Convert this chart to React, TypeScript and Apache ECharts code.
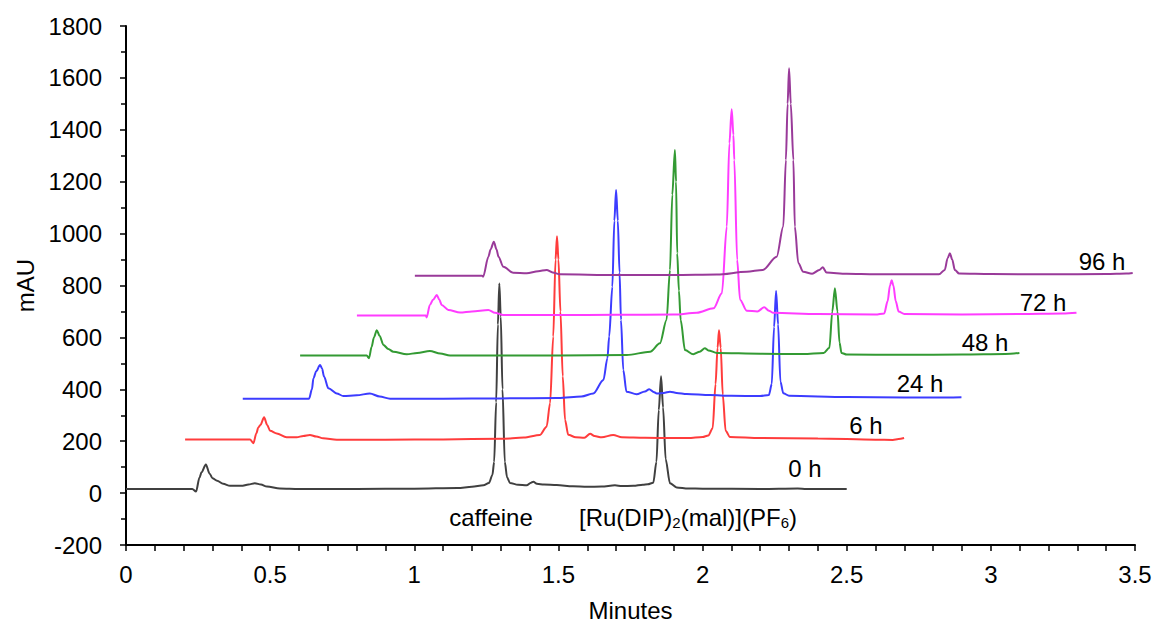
import React, { useEffect, useRef } from "react";
import * as echarts from "echarts";

const xTicks = [0, 0.5, 1, 1.5, 2, 2.5, 3, 3.5];
const yTicks = [-200, 0, 200, 400, 600, 800, 1000, 1200, 1400, 1600, 1800];
const seriesNames = ["0 h", "6 h", "24 h", "48 h", "72 h", "96 h"];
const seriesColors = ["#404040", "#ff3c3c", "#3c3cff", "#339a33", "#ff3cff", "#993a99"];

const trace0h = [
  [0, 16], [0.23, 16], [0.243, 6], [0.255, 60], [0.262, 80], [0.277, 110], [0.29, 75], [0.3, 57],
  [0.316, 48], [0.337, 36], [0.361, 28], [0.4, 28], [0.425, 33], [0.447, 38], [0.468, 33], [0.489, 25],
  [0.534, 18], [0.6, 16], [0.8, 16], [1.0, 17], [1.15, 20], [1.2, 24], [1.24, 30], [1.259, 39],
  [1.271, 70], [1.277, 120], [1.284, 350], [1.29, 650], [1.295, 808], [1.3, 680], [1.306, 400],
  [1.314, 120], [1.322, 60], [1.332, 39], [1.36, 32], [1.39, 30], [1.405, 40], [1.413, 44], [1.425, 36],
  [1.45, 33], [1.494, 31], [1.55, 26], [1.6, 24], [1.65, 25], [1.696, 30], [1.72, 27], [1.76, 28],
  [1.793, 32], [1.81, 34], [1.829, 40], [1.84, 120], [1.848, 320], [1.856, 450], [1.863, 330],
  [1.872, 130], [1.887, 38], [1.91, 22], [1.95, 18], [2.0, 17], [2.2, 16], [2.33, 18], [2.36, 16], [2.5, 16],
];

const trace6h = [
  [0.205, 207], [0.3, 207], [0.43, 207], [0.442, 192], [0.452, 230], [0.459, 253], [0.466, 262],
  [0.479, 292], [0.49, 262], [0.5, 240], [0.523, 230], [0.557, 215], [0.592, 215], [0.615, 220],
  [0.638, 224], [0.66, 218], [0.684, 211], [0.731, 206], [0.9, 206], [1.1, 207], [1.3, 209], [1.38, 214],
  [1.436, 224], [1.459, 256], [1.471, 346], [1.482, 603], [1.49, 900], [1.495, 990], [1.5, 900],
  [1.507, 700], [1.515, 450], [1.523, 282], [1.534, 225], [1.56, 215], [1.59, 213], [1.61, 229],
  [1.625, 220], [1.65, 215], [1.69, 224], [1.72, 215], [1.8, 213], [1.9, 212], [1.95, 212], [2.0, 216],
  [2.02, 222], [2.035, 250], [2.045, 420], [2.052, 560], [2.057, 628], [2.063, 560], [2.07, 380],
  [2.08, 240], [2.095, 216], [2.2, 212], [2.4, 210], [2.6, 206], [2.66, 205], [2.68, 208], [2.699, 212],
];

const trace24h = [
  [0.405, 364], [0.55, 364], [0.635, 364], [0.645, 400], [0.65, 442], [0.66, 470], [0.673, 494],
  [0.68, 480], [0.687, 449], [0.702, 404], [0.731, 384], [0.754, 374], [0.8, 377], [0.846, 384],
  [0.88, 372], [0.916, 364], [1.1, 364], [1.3, 365], [1.5, 366], [1.58, 372], [1.621, 384], [1.656, 436],
  [1.67, 520], [1.676, 603], [1.687, 795], [1.694, 1050], [1.7, 1168], [1.706, 1050], [1.712, 850],
  [1.717, 667], [1.725, 474], [1.736, 391], [1.771, 381], [1.8, 392], [1.815, 400], [1.83, 390],
  [1.841, 384], [1.865, 386], [1.887, 391], [1.91, 386], [1.945, 382], [2.026, 378], [2.1, 375],
  [2.2, 374], [2.23, 378], [2.24, 420], [2.248, 640], [2.255, 779], [2.262, 650], [2.27, 430],
  [2.28, 385], [2.3, 375], [2.5, 370], [2.7, 368], [2.85, 368], [2.898, 369],
];

const trace48h = [
  [0.604, 530], [0.75, 530], [0.835, 530], [0.843, 520], [0.852, 564], [0.86, 600], [0.87, 628],
  [0.88, 605], [0.893, 571], [0.91, 555], [0.927, 545], [0.974, 535], [1.01, 540], [1.054, 548],
  [1.09, 538], [1.124, 530], [1.3, 530], [1.5, 530], [1.737, 532], [1.818, 545], [1.852, 577],
  [1.875, 667], [1.887, 860], [1.895, 1150], [1.904, 1322], [1.908, 1200], [1.912, 924], [1.918, 780],
  [1.924, 667], [1.939, 551], [1.968, 535], [1.99, 545], [2.008, 558], [2.02, 550], [2.05, 540],
  [2.2, 537], [2.35, 536], [2.42, 540], [2.44, 560], [2.45, 700], [2.459, 789], [2.468, 700],
  [2.475, 580], [2.482, 540], [2.5, 534], [2.7, 533], [2.9, 534], [3.05, 536], [3.099, 540],
];

const trace72h = [
  [0.801, 684], [0.95, 684], [1.04, 684], [1.043, 677], [1.054, 725], [1.065, 745], [1.078, 763],
  [1.087, 745], [1.095, 725], [1.118, 706], [1.159, 696], [1.2, 700], [1.257, 706], [1.28, 695],
  [1.309, 686], [1.5, 686], [1.7, 687], [1.9, 688], [1.98, 695], [2.038, 712], [2.067, 770],
  [2.084, 1027], [2.093, 1348], [2.101, 1479], [2.107, 1380], [2.11, 1284], [2.12, 899], [2.13, 745],
  [2.153, 703], [2.19, 700], [2.214, 716], [2.23, 703], [2.245, 695], [2.4, 690], [2.6, 688],
  [2.63, 692], [2.642, 740], [2.65, 800], [2.656, 820], [2.662, 800], [2.67, 740], [2.68, 700],
  [2.7, 690], [2.9, 688], [3.1, 690], [3.25, 692], [3.297, 695],
];

const trace96h = [
  [1.002, 838], [1.15, 838], [1.235, 838], [1.239, 834], [1.257, 911], [1.265, 940], [1.276, 969],
  [1.285, 940], [1.292, 911], [1.309, 872], [1.343, 849], [1.39, 847], [1.43, 855], [1.459, 860],
  [1.48, 850], [1.505, 843], [1.7, 840], [1.9, 840], [2.05, 842], [2.153, 853], [2.209, 860],
  [2.257, 911], [2.28, 1027], [2.289, 1284], [2.295, 1500], [2.3, 1637], [2.306, 1500], [2.315, 1284],
  [2.32, 1027], [2.332, 887], [2.349, 853], [2.38, 845], [2.405, 860], [2.417, 870], [2.43, 850],
  [2.5, 845], [2.6, 843], [2.7, 843], [2.82, 843], [2.84, 860], [2.85, 905], [2.858, 924], [2.866, 900],
  [2.875, 860], [2.89, 846], [3.0, 844], [3.2, 843], [3.4, 844], [3.47, 846], [3.492, 848],
];

const traces = [trace0h, trace6h, trace24h, trace48h, trace72h, trace96h];

// label anchor positions (pixels) for the trace names
const traceLabelPos = [
  [805, 468], [866, 425], [920, 383], [985, 342], [1043, 302], [1102, 261],
];

const FONT = "Arial, 'Liberation Sans', Helvetica, sans-serif";
const FS = 24;

export default function App() {
  const ref = useRef<HTMLDivElement>(null);
  useEffect(() => {
    document.body.style.margin = "0";
    document.body.style.overflow = "hidden";
    document.documentElement.style.overflow = "hidden";
    const chart = echarts.init(ref.current!, null, { renderer: "svg", width: 1157, height: 625 });
    const baseText = {
      font: `${FS}px ${FONT}`,
      fontSize: FS,
      fontFamily: FONT,
      fill: "#000",
      textAlign: "center",
      textVerticalAlign: "middle",
      align: "center",
      verticalAlign: "middle",
    };
    const graphic: any[] = seriesNames.map((n, i) => ({
      type: "text",
      x: traceLabelPos[i][0],
      y: traceLabelPos[i][1],
      style: { ...baseText, text: n },
    }));
    graphic.push({ type: "text", x: 491, y: 517, style: { ...baseText, text: "caffeine" } });
    graphic.push({
      type: "text",
      x: 688,
      y: 517,
      style: {
        ...baseText,
        text: "[Ru(DIP){s|2}(mal)](PF{s|6})",
        rich: {
          s: { fontSize: 15, fontFamily: FONT, fill: "#000", padding: [11, 0, 0, 0] },
        },
      },
    });
    chart.setOption({
      animation: false,
      backgroundColor: "#fff",
      grid: {
        left: 126,
        right: 22,
        top: 26,
        bottom: 80,
        containLabel: false,
        outerBoundsMode: "none",
      },
      xAxis: {
        type: "value",
        min: xTicks[0],
        max: xTicks[xTicks.length - 1],
        interval: 0.5,
        name: "Minutes",
        nameLocation: "middle",
        nameGap: 53,
        nameTextStyle: { fontSize: FS, fontFamily: FONT, color: "#000" },
        axisLine: { onZero: false, lineStyle: { color: "#000", width: 2 } },
        axisTick: { show: true, inside: false, length: 6, lineStyle: { color: "#000", width: 1.5 } },
        minorTick: { show: true, splitNumber: 5, length: 6, lineStyle: { color: "#000", width: 1.5 } },
        axisLabel: {
          fontSize: FS,
          fontFamily: FONT,
          color: "#000",
          margin: 17,
          formatter: (v: number) => String(v),
        },
        splitLine: { show: false },
      },
      yAxis: {
        type: "value",
        min: yTicks[0],
        max: yTicks[yTicks.length - 1],
        interval: 200,
        name: "mAU",
        nameLocation: "middle",
        nameGap: 86,
        nameTextStyle: { fontSize: FS, fontFamily: FONT, color: "#000" },
        axisLine: { show: true, lineStyle: { color: "#000", width: 2 } },
        axisTick: { show: true, inside: false, length: 6, lineStyle: { color: "#000", width: 1.5 } },
        minorTick: { show: true, splitNumber: 2, length: 5, lineStyle: { color: "#000", width: 1.5 } },
        axisLabel: {
          fontSize: FS,
          fontFamily: FONT,
          color: "#000",
          margin: 24,
          formatter: (v: number) => String(v),
        },
        splitLine: { show: false },
      },
      series: traces.map((d, i) => ({
        name: seriesNames[i],
        type: "line",
        data: d,
        showSymbol: false,
        symbol: "none",
        smooth: 0.3,
        smoothMonotone: "x",
        lineStyle: { color: seriesColors[i], width: 2 },
        itemStyle: { color: seriesColors[i] },
        z: 2 + i,
      })),
      graphic,
    });
    return () => chart.dispose();
  }, []);
  return (
    <div
      ref={ref}
      style={{
        position: "absolute",
        left: 0,
        top: 0,
        width: 1157,
        height: 625,
        overflow: "hidden",
        background: "#fff",
      }}
    />
  );
}
